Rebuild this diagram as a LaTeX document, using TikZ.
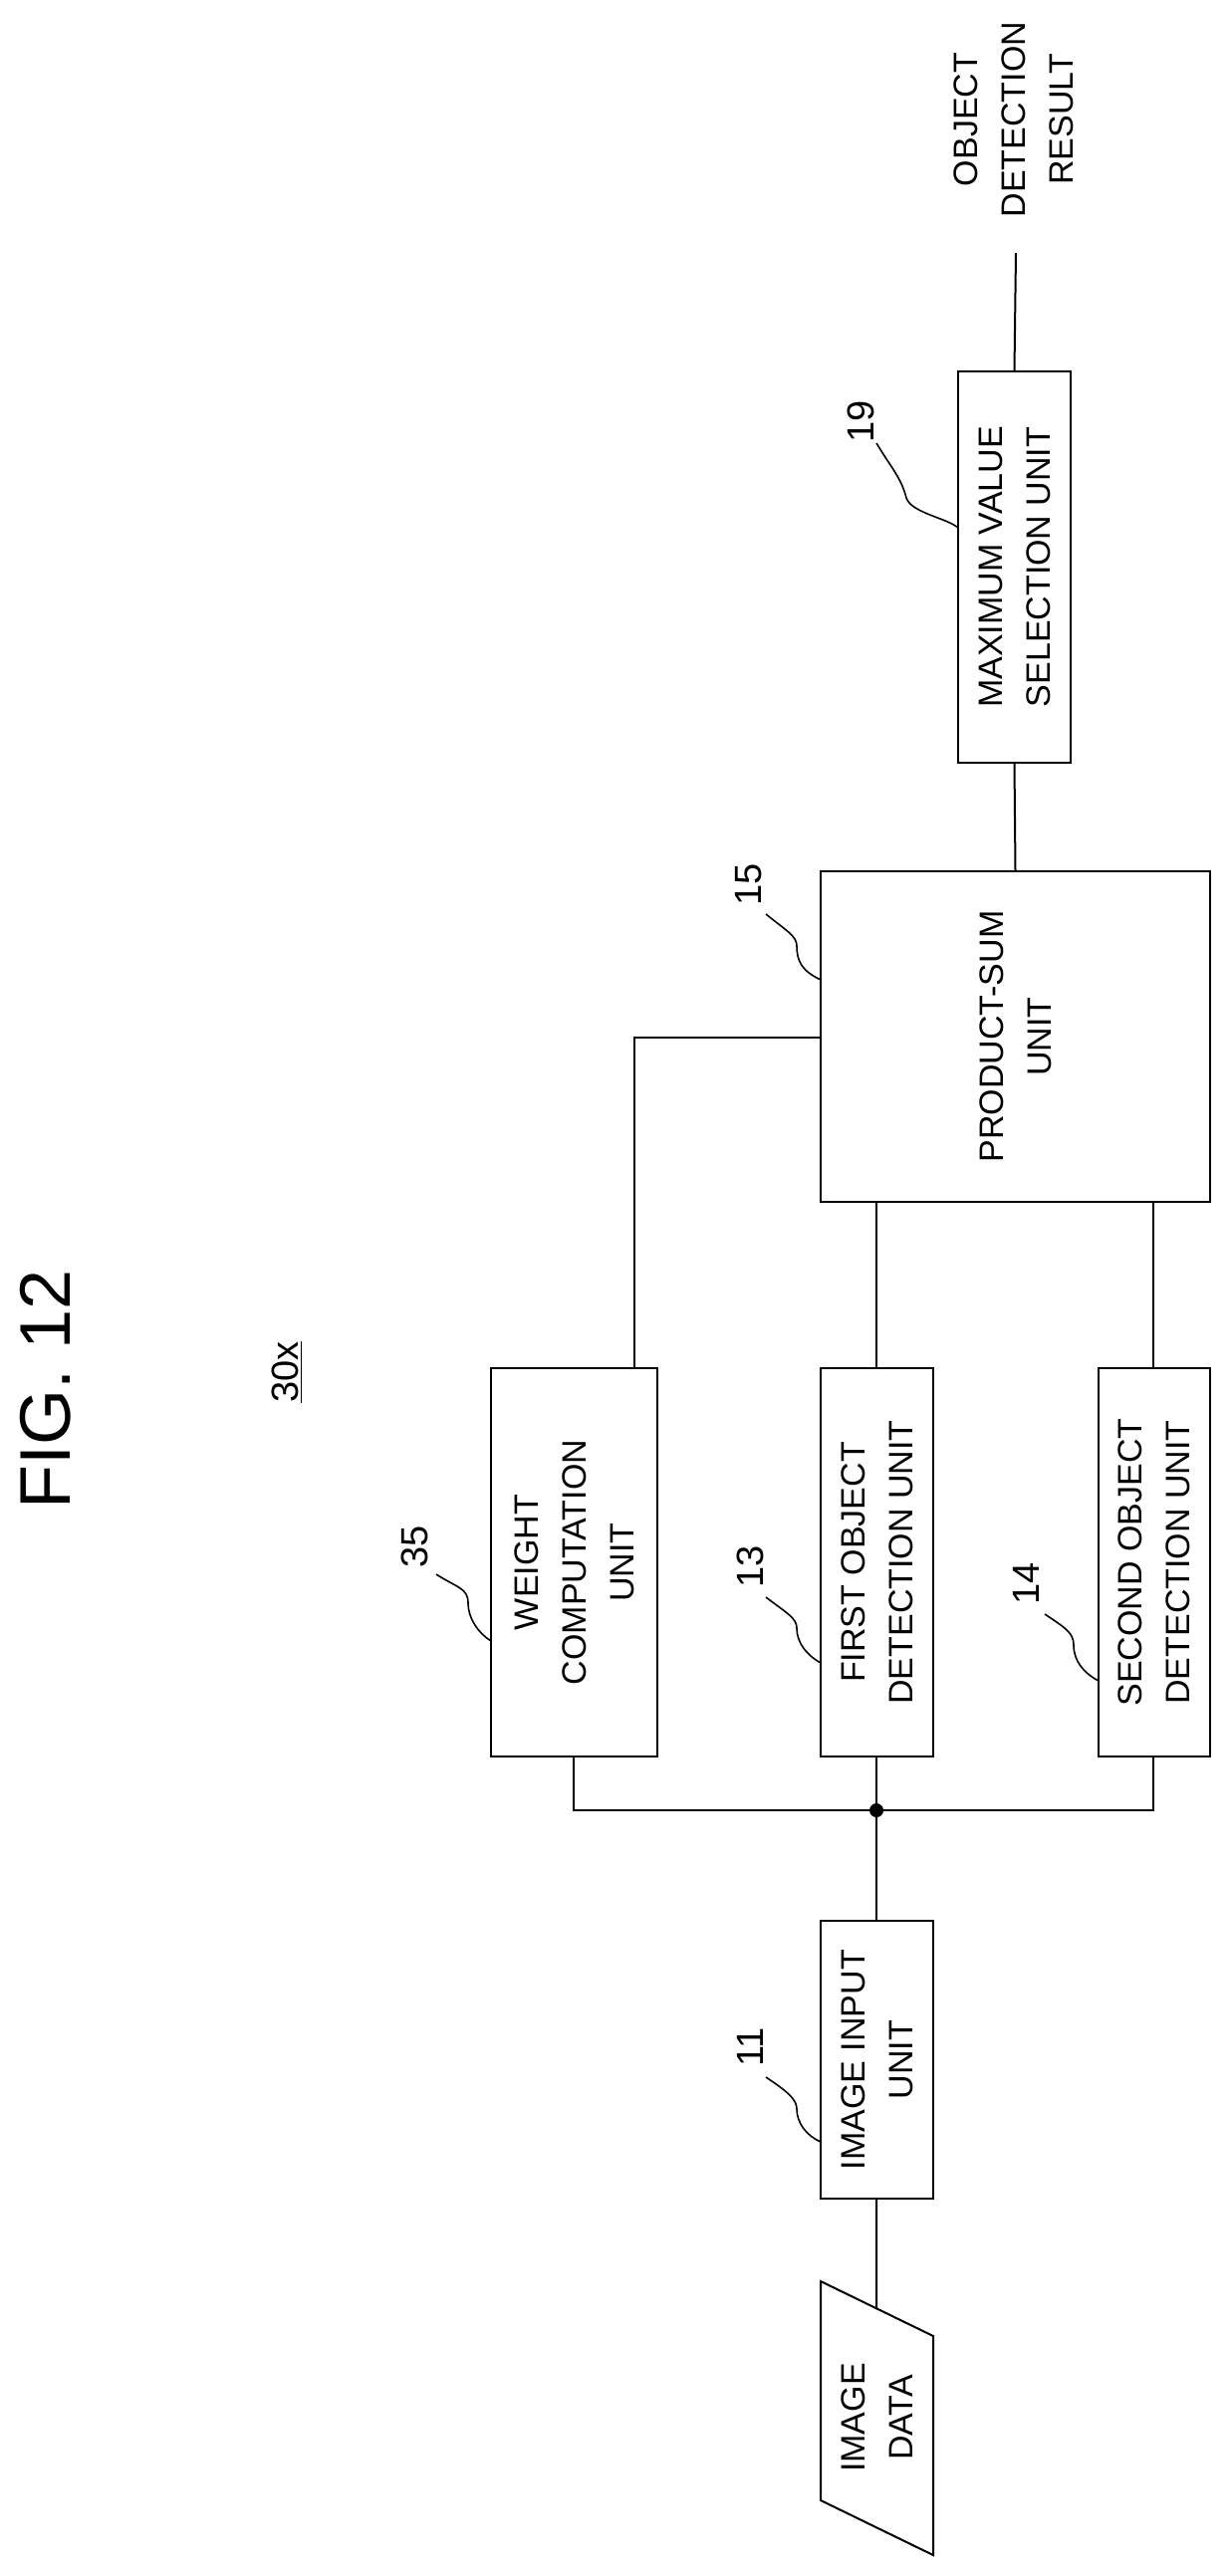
\documentclass[tikz,border=0pt]{standalone}
\usepackage{fontspec}
\setmainfont{Liberation Sans}
\usetikzlibrary{calc}
\begin{document}
\begin{tikzpicture}[x=0.5pt,y=-0.5pt,
  box/.style={draw,line width=1pt,rotate=90,align=center,inner sep=0pt,font=\fontsize{17}{24}\selectfont},
  num/.style={rotate=90,inner sep=0pt,font=\fontsize{19}{22}\selectfont},
  conn/.style={line width=1pt},
  lead/.style={line width=0.8pt}]
\useasboundingbox (0,0) rectangle (1237,2587);
% title
\node[rotate=90,font=\fontsize{36}{40}\selectfont] (fig) at (46,1395) {FIG. 12};
\node[rotate=90,font=\fontsize{19}{22}\selectfont] (ref) at (288,1378) {\underline{30x}};
% boxes
\node[box,minimum width=196.5pt,minimum height=56.5pt] (m) at (1018.5,569.5) {MAXIMUM VALUE\\SELECTION UNIT};
\node[box,minimum width=166pt,minimum height=195.5pt] (ps) at (1019.5,1041) {PRODUCT-SUM\\UNIT};
\node[box,minimum width=195pt,minimum height=83.5pt] (w) at (576.5,1569) {WEIGHT\\COMPUTATION\\UNIT};
\node[box,minimum width=195pt,minimum height=56.5pt] (f) at (880.5,1569) {FIRST OBJECT\\DETECTION UNIT};
\node[box,minimum width=195pt,minimum height=56pt] (s) at (1159,1569) {SECOND OBJECT\\DETECTION UNIT};
\node[box,minimum width=139.5pt,minimum height=56.5pt] (in) at (880.5,2068.5) {IMAGE INPUT\\UNIT};
% image data parallelogram
\draw[line width=1pt] (824,2291) coordinate (d1) -- (937,2346) coordinate (d2) -- (937,2566) -- (824,2511) -- cycle;
\node[rotate=90,align=center,font=\fontsize{17}{24}\selectfont] (data) at (880.5,2428) {IMAGE\\DATA};
\coordinate (dtop) at ($(d1)!0.496!(d2)$);
% output
\node[rotate=90,align=center,font=\fontsize{17}{24}\selectfont] (out) at (1018,120) {OBJECT\\DETECTION\\RESULT};
\coordinate (oe) at (1020,254);
% connectors
\coordinate (wx) at (637,0);
\coordinate (fx) at (880,0);
\coordinate (sx) at (1158,0);
\coordinate (bx) at (576,0);
\coordinate (py) at (0,1042);
\coordinate (j) at (880,1818);
\draw[conn] (oe) -- (m.east);
\draw[conn] (m.west) -- (ps.east);
\draw[conn] (w.east -| wx) |- (ps.north west |- py);
\draw[conn] (f.east -| fx) -- (ps.west -| fx);
\draw[conn] (s.east -| sx) -- (ps.west -| sx);
\draw[conn] (w.west -| bx) |- (j) -| (s.west -| sx);
\draw[conn] (f.west -| fx) -- (in.east -| fx);
\draw[conn] (in.west -| fx) -- (dtop);
\fill (j) circle (7);
% reference numbers and leaders
\node[num] (n19) at (864,423) {19};
\draw[lead] (880,445) .. controls (895,470) and (905,480) .. (910,500) .. controls (915,515) and (950,520) .. (962,530);
\node[num] (n15) at (752,888) {15};
\draw[lead] (769,918) .. controls (790,935) and (800,940) .. (800,950) .. controls (800,965) and (805,975) .. (824,984);
\node[num] (n35) at (416,1553) {35};
\draw[lead] (438,1581) .. controls (460,1595) and (470,1595) .. (470,1610) .. controls (470,1625) and (480,1640) .. (493,1648);
\node[num] (n13) at (753,1573) {13};
\draw[lead] (769,1604) .. controls (790,1620) and (800,1625) .. (800,1635) .. controls (800,1650) and (810,1662) .. (824,1670);
\node[num] (n14) at (1030,1590) {14};
\draw[lead] (1049,1621) .. controls (1070,1635) and (1078,1640) .. (1078,1652) .. controls (1078,1668) and (1088,1680) .. (1103,1688);
\node[num] (n11) at (753,2056) {11};
\draw[lead] (769,2086) .. controls (790,2100) and (800,2108) .. (800,2118) .. controls (800,2132) and (810,2145) .. (824,2151);
\end{tikzpicture}
\end{document}
